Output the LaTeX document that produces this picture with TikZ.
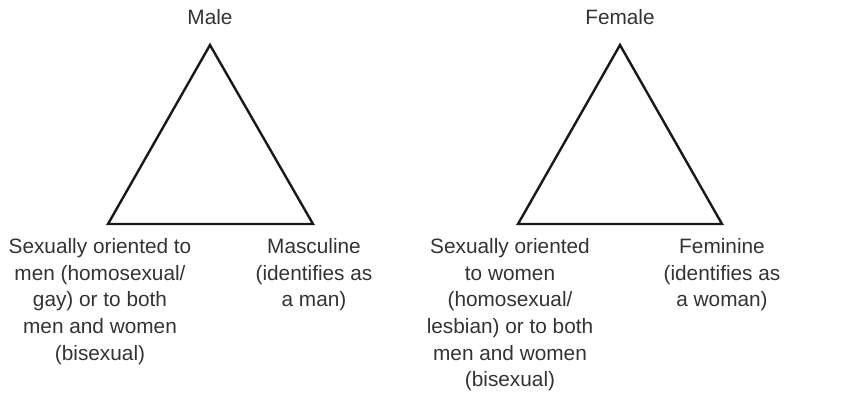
\documentclass[tikz,border=0pt]{standalone}
\usepackage{fontspec}
\setmainfont{Liberation Sans}
\begin{document}
\begin{tikzpicture}[x=1pt,y=-1pt,
  lbl/.style={inner sep=0pt, align=center, text=black!80, font=\fontsize{20.8}{26.6}\selectfont},
  tri/.style={line width=2.4pt, line join=miter, draw=black!90}]
\useasboundingbox (0,0) rectangle (850,413);
% left triangle
\coordinate (mA) at (210,45);
\coordinate (mL) at (108,224);
\coordinate (mR) at (313,224);
\draw[tri] (mA) -- (mL) -- (mR) -- cycle;
% right triangle
\coordinate (fA) at (620,45);
\coordinate (fL) at (518,224);
\coordinate (fR) at (722,224);
\draw[tri] (fA) -- (fL) -- (fR) -- cycle;
% labels
\node[lbl, anchor=base] (male) at (210,24) {Male};
\node[lbl, anchor=base] (female) at (620,24) {Female};
\node[lbl, anchor=north] (morient) at (100,238.5) {Sexually oriented to\\men (homosexual/\\gay) or to both\\men and women\\(bisexual)};
\node[lbl, anchor=north] (masc) at (314,238.5) {Masculine\\(identifies as\\a man)};
\node[lbl, anchor=north] (forient) at (510,238.5) {Sexually oriented\\to women\\(homosexual/\\lesbian) or to both\\men and women\\(bisexual)};
\node[lbl, anchor=north] (fem) at (722,238.5) {Feminine\\(identifies as\\a woman)};
\end{tikzpicture}
\end{document}
